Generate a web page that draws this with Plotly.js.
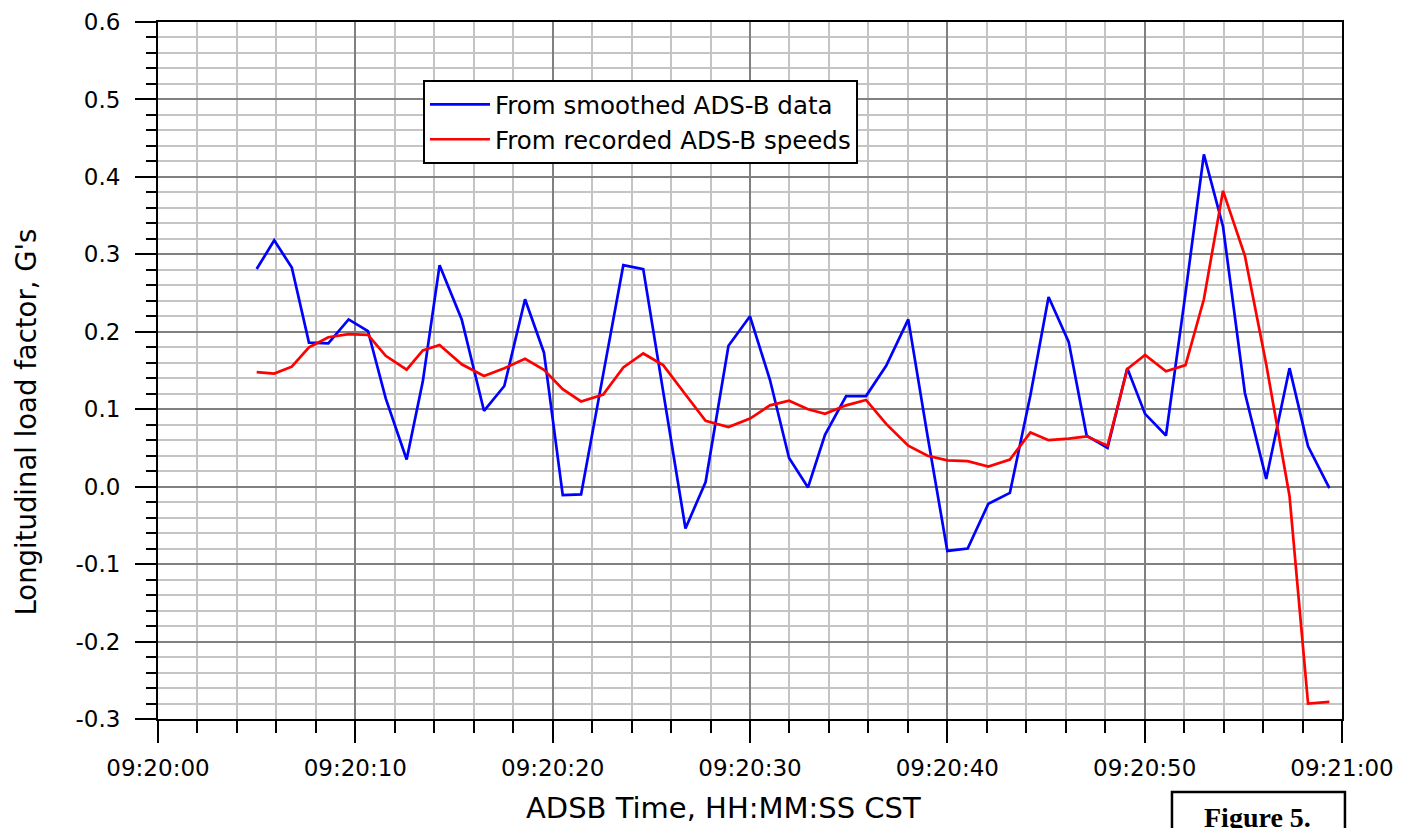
<!DOCTYPE html>
<html>
<head>
<meta charset="utf-8">
<script src="https://cdn.plot.ly/plotly-3.0.1.min.js"></script>
<style>
  html, body { margin: 0; padding: 0; background: #ffffff; }
  #chart { width: 1411px; height: 828px; }
</style>
</head>
<body>
<div id="chart"></div>
<script>
// Time of each sample, seconds after 09:20:00 CST
const timeSec = [
  5.00, 5.89, 6.78, 7.65, 8.63, 9.66, 10.64, 11.54, 12.60, 13.42,
  14.27, 15.39, 16.52, 17.55, 18.60, 19.56, 20.51, 21.44, 22.56, 23.58,
  24.59, 25.60, 26.73, 27.75, 28.91, 30.00, 31.01, 31.98, 32.94, 33.80,
  34.87, 35.88, 36.90, 38.02, 39.00, 40.00, 41.03, 42.08, 43.17, 44.21,
  45.13, 46.15, 47.06, 48.12, 49.12, 50.02, 51.08, 52.07, 53.00, 53.97,
  55.08, 56.16, 57.34, 58.28, 59.36
];

// Longitudinal load factor (G's) from smoothed ADS-B data
const smoothedG = [
  0.281, 0.318, 0.283, 0.186, 0.185, 0.216, 0.201, 0.114, 0.035, 0.136,
  0.286, 0.216, 0.098, 0.130, 0.242, 0.173, -0.011, -0.010, 0.145, 0.286,
  0.281, 0.125, -0.054, 0.006, 0.182, 0.220, 0.138, 0.037, -0.001, 0.067,
  0.117, 0.117, 0.156, 0.216, 0.065, -0.083, -0.080, -0.022, -0.008, 0.118,
  0.245, 0.187, 0.066, 0.050, 0.153, 0.094, 0.066, 0.250, 0.429, 0.336,
  0.121, 0.010, 0.153, 0.052, -0.002
];

// Longitudinal load factor (G's) from recorded ADS-B speeds
const recordedG = [
  0.148, 0.146, 0.155, 0.180, 0.193, 0.197, 0.196, 0.169, 0.151, 0.176,
  0.183, 0.158, 0.143, 0.153, 0.165, 0.151, 0.126, 0.110, 0.119, 0.154,
  0.172, 0.157, 0.119, 0.085, 0.077, 0.088, 0.105, 0.111, 0.100, 0.094,
  0.105, 0.112, 0.081, 0.053, 0.040, 0.034, 0.033, 0.026, 0.035, 0.070,
  0.060, 0.062, 0.065, 0.053, 0.152, 0.170, 0.149, 0.157, 0.242, 0.382,
  0.298, 0.158, -0.012, -0.280, -0.278
];

// Y axis tick values and labels (hyphen-minus as in the original)
const yTickVals = [-0.3, -0.2, -0.1, 0.0, 0.1, 0.2, 0.3, 0.4, 0.5, 0.6];
const yTickText = ['-0.3', '-0.2', '-0.1', '0.0', '0.1', '0.2', '0.3', '0.4', '0.5', '0.6'];

const seriesNames = ['From smoothed ADS-B data', 'From recorded ADS-B speeds'];
const xTitle = 'ADSB Time, HH:MM:SS CST';
const yTitle = "Longitudinal load factor, G's";
const figureLabel = 'Figure 5.';

function toStamp(s) {
  const ms = Math.round(s * 1000);
  const whole = Math.floor(ms / 1000);
  const frac = ms % 1000;
  return '2000-01-01 09:20:' + String(whole).padStart(2, '0') + '.' + String(frac).padStart(3, '0');
}
const xStamps = timeSec.map(toStamp);

const FONT = 'DejaVu Sans, Liberation Sans, Arial, sans-serif';

const traces = [
  {
    type: 'scatter', mode: 'lines', name: seriesNames[0],
    x: xStamps, y: smoothedG,
    line: { color: '#0000ff', width: 2.7 }
  },
  {
    type: 'scatter', mode: 'lines', name: seriesNames[1],
    x: xStamps, y: recordedG,
    line: { color: '#ff0000', width: 2.7 }
  }
];

const layout = {
  width: 1411, height: 828,
  margin: { l: 158, r: 69, t: 22, b: 109 },
  paper_bgcolor: '#ffffff', plot_bgcolor: '#ffffff',
  font: { family: FONT, color: '#000000', size: 23 },
  showlegend: true,
  legend: {
    x: 0.2238, y: 0.9168, xanchor: 'left', yanchor: 'top',
    bgcolor: '#ffffff', bordercolor: '#000000', borderwidth: 2,
    font: { family: FONT, size: 24.5, color: '#000000' },
    itemwidth: 60, tracegroupgap: 0
  },
  xaxis: {
    type: 'date',
    range: ['2000-01-01 09:20:00', '2000-01-01 09:21:00'],
    tick0: '2000-01-01 09:20:00', dtick: 10000,
    tickformat: '%H:%M:%S',
    showline: true, linecolor: '#000000', linewidth: 2, mirror: true,
    ticks: 'outside', ticklen: 22, tickwidth: 2, tickcolor: '#000000',
    showgrid: true, gridcolor: '#808080', gridwidth: 2,
    zeroline: false,
    tickfont: { family: FONT, size: 23 },
    ticklabelstandoff: 5,
    minor: {
      dtick: 2000, ticks: 'outside', ticklen: 12, tickwidth: 2, tickcolor: '#000000',
      showgrid: true, gridcolor: '#c4c4c4', gridwidth: 2
    }
  },
  yaxis: {
    range: [-0.3, 0.6],
    tickmode: 'array', tickvals: yTickVals, ticktext: yTickText,
    showline: true, linecolor: '#000000', linewidth: 2, mirror: true,
    ticks: 'outside', ticklen: 21, tickwidth: 2, tickcolor: '#000000',
    showgrid: true, gridcolor: '#808080', gridwidth: 2,
    zeroline: false,
    tickfont: { family: FONT, size: 23 },
    ticklabelstandoff: 10,
    minor: {
      dtick: 0.02, tick0: 0, ticks: 'outside', ticklen: 10, tickwidth: 2, tickcolor: '#000000',
      showgrid: true, gridcolor: '#c4c4c4', gridwidth: 2
    }
  },
  shapes: [
    {
      type: 'rect', xref: 'paper', yref: 'paper',
      x0: 0.8564, x1: 1.0025, y0: -0.1047, y1: -0.25,
      line: { color: '#000000', width: 2.5 }, fillcolor: 'rgba(0,0,0,0)'
    }
  ],
  annotations: [
    {
      xref: 'paper', yref: 'paper', x: 0.4776, y: -0.1277,
      xanchor: 'center', yanchor: 'middle', showarrow: false,
      text: xTitle,
      font: { family: FONT, size: 29, color: '#000000' }
    },
    {
      xref: 'paper', yref: 'paper', x: -0.1115, y: 0.4268,
      xanchor: 'center', yanchor: 'middle', showarrow: false, textangle: -90,
      text: yTitle,
      font: { family: FONT, size: 27.5, color: '#000000' }
    },
    {
      xref: 'paper', yref: 'paper', x: 0.929, y: -0.1165,
      xanchor: 'center', yanchor: 'top', showarrow: false,
      text: '<b>' + figureLabel + '</b>',
      font: { family: 'Liberation Serif, Times New Roman, serif', size: 28, color: '#000000' }
    }
  ]
};

Plotly.newPlot('chart', traces, layout, { staticPlot: true, displayModeBar: false });
</script>
</body>
</html>
